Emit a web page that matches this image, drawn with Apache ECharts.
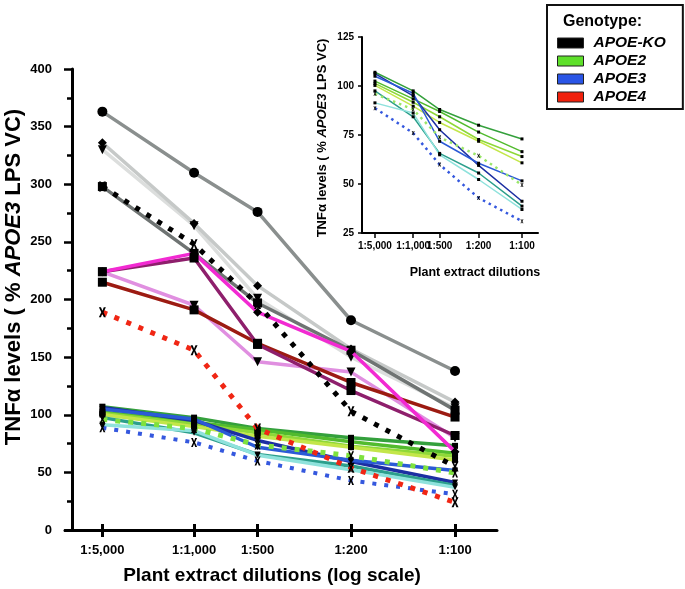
<!DOCTYPE html>
<html><head><meta charset="utf-8">
<script src="https://cdn.jsdelivr.net/npm/echarts@6/dist/echarts.min.js"></script>
<style>html,body{margin:0;padding:0;background:#fff}#c{width:685px;height:589px}</style>
</head><body><div id="c"></div>
<script>
// ---- data ----
const dilutions = ['1:5,000', '1:1,000', '1:500', '1:200', '1:100'];
const dilutionPos = [0, 26, 44, 70.5, 100];   // axis position of each dilution
const mainYTicks = [0, 50, 100, 150, 200, 250, 300, 350, 400];
const insetYTicks = [25, 50, 75, 100, 125];

// APOE-KO
const koDarkGray  = [363, 310, 276, 182, 138];
const koLightGray = [336, 266, 212, 157, 111];
const koPaleGray  = [330, 264, 201, 150, 106];
const koMidGray   = [298, 240, 197, 156, 104];
const koDotted    = [298, 248, 196, 103, 55];
// APOE4
const e4Magenta = [224, 240, 189, 155, 68];
const e4Purple  = [224, 236, 161, 121, 82];
const e4DarkRed = [215, 191, 162, 128, 98];
const e4Orchid  = [224, 195, 146, 137, 80];
const e4Dotted  = [189, 156, 88, 54, 24];
// APOE2
const e2DarkGreen = [107, 97.5, 88, 80, 73];
const e2Green     = [102.5, 93.4, 87, 76.5, 66.5];
const e2Lime      = [101.3, 91.7, 84.3, 72.7, 64];
const e2Yellow    = [100.3, 89.7, 81.4, 71.8, 60.8];
const e2Dotted    = [96, 88, 73.8, 64.4, 49.5];
// APOE3
const e3DarkBlue = [106.3, 95, 77.7, 59.5, 41.2];
const e3Blue     = [105, 96.3, 71.8, 60.6, 51.6];
const e3Teal     = [97.5, 84.3, 65.6, 55.6, 38.7];
const e3Cyan     = [91.4, 86.2, 64.9, 52.3, 37];
const e3Dotted   = [88.7, 76, 59.9, 42.9, 31];

const legendNames = ['APOE-KO', 'APOE2', 'APOE3', 'APOE4'];
const legendColors = ['#000000', '#5ee02a', '#2a55e6', '#f0200c'];

// ---- styling ----
const FONT = '"Liberation Sans", Arial, Helvetica, sans-serif';
const XSYM = 'path://M0 0H3L5 3.6L7 0H10L6.6 5L10 10H7L5 6.4L3 10H0L3.4 5Z';

function line(vals, inset, color, width, opts) {
  opts = opts || {};
  return {
    type: 'line', xAxisIndex: inset ? 2 : 0, yAxisIndex: inset ? 1 : 0,
    data: vals.map((v, i) => [dilutionPos[i], v]),
    lineStyle: { color: color, width: width, type: opts.dash || 'solid', cap: 'butt' },
    symbol: opts.symbol || 'rect',
    symbolSize: opts.size || 5,
    symbolRotate: opts.rotate || 0,
    itemStyle: { color: '#000' },
    silent: true, animation: false, z: opts.z || 2
  };
}

const series = [];
// main: APOE2 / APOE3
[[e2DarkGreen, '#34a03c'], [e2Green, '#52bb2e'], [e2Lime, '#8fd838'], [e2Yellow, '#c3e64a']].forEach(d =>
  series.push(line(d[0], false, d[1], 3.5, { symbol: 'rect', size: 6 })));
[[e3DarkBlue, '#1c2fa2'], [e3Blue, '#2b5ad6'], [e3Teal, '#2c9f8c'], [e3Cyan, '#8fe2dc']].forEach(d =>
  series.push(line(d[0], false, d[1], 3.5, { symbol: 'triangle', rotate: 180, size: 6 })));
series.push(line(e2Dotted, false, '#7ee23e', 5, { dash: [5, 8], symbol: XSYM, size: [6, 9] }));
series.push(line(e3Dotted, false, '#3558de', 4, { dash: [4, 8], symbol: XSYM, size: [6, 9] }));
// main: APOE-KO
series.push(line(koPaleGray, false, '#dcdedd', 3.5, { symbol: 'triangle', rotate: 180, size: 9 }));
series.push(line(koLightGray, false, '#c6c9c8', 3.5, { symbol: 'diamond', size: 9 }));
series.push(line(koMidGray, false, '#6f7473', 3.5, { symbol: 'rect', size: 9 }));
series.push(line(koDarkGray, false, '#8a8f8e', 3.5, { symbol: 'circle', size: 10 }));
// main: APOE4
series.push(line(e4Orchid, false, '#e08fe0', 3.5, { symbol: 'triangle', rotate: 180, size: 9, z: 3 }));
series.push(line(e4DarkRed, false, '#9c1b12', 3.5, { symbol: 'rect', size: 9, z: 3 }));
series.push(line(e4Purple, false, '#8e1f6c', 3.5, { symbol: 'rect', size: 9, z: 3 }));
series.push(line(e4Magenta, false, '#f22ad2', 3.5, { symbol: 'diamond', size: 9, z: 3 }));
series.push(line(e4Dotted, false, '#f02614', 5, { dash: [5, 8], symbol: XSYM, size: [7, 10], z: 4 }));
series.push(line(koDotted, false, '#000000', 5, { dash: [5, 8], symbol: XSYM, size: [7, 10], z: 4 }));
// inset
[[e2DarkGreen, '#34a03c'], [e2Green, '#52bb2e'], [e2Lime, '#8fd838'], [e2Yellow, '#c3e64a'],
 [e3DarkBlue, '#1c2fa2'], [e3Blue, '#2b5ad6'], [e3Teal, '#2c9f8c'], [e3Cyan, '#8fe2dc']].forEach(d =>
  series.push(line(d[0], true, d[1], 1.5, { symbol: 'rect', size: 3 })));
series.push(line(e2Dotted, true, '#9ae66a', 2.5, { dash: [2.5, 4], symbol: XSYM, size: [3, 4] }));
series.push(line(e3Dotted, true, '#3558de', 2.5, { dash: [2.5, 4], symbol: XSYM, size: [3, 4] }));
// legend-only series
legendNames.forEach((n, i) => series.push({ type: 'line', name: n, data: [], xAxisIndex: 0, yAxisIndex: 0, itemStyle: { color: legendColors[i] } }));

const labelFmt = v => { const i = dilutionPos.indexOf(v); return i >= 0 ? dilutions[i] : ''; };
const bold = (size) => ({ fontFamily: FONT, fontWeight: 'bold', fontSize: size, color: '#000' });

const option = {
  backgroundColor: '#fff',
  animation: false,
  grid: [
    { left: 65, right: 188, top: 69, bottom: 59 },
    { left: 362, right: 147, top: 37, bottom: 356 }
  ],
  xAxis: [
    { gridIndex: 0, type: 'value', position: 'bottom', min: -10.6, max: 111.9,
      axisLine: { show: true, onZero: false, lineStyle: { color: '#000', width: 3 } },
      axisTick: { show: true, customValues: dilutionPos, length: 7, lineStyle: { color: '#000', width: 3 } },
      axisLabel: { show: true, customValues: dilutionPos, formatter: labelFmt, margin: 14, ...bold(13) },
      splitLine: { show: false } },
    { gridIndex: 0, type: 'value', position: 'bottom', min: -10.6, max: 111.9,
      axisLine: { show: false, onZero: false },
      axisTick: { show: true, inside: true, customValues: dilutionPos, length: 6, lineStyle: { color: '#000', width: 3 } },
      axisLabel: { show: false }, splitLine: { show: false } },
    { gridIndex: 1, type: 'value', position: 'bottom', min: -8.8, max: 110.9,
      axisLine: { show: true, onZero: false, lineStyle: { color: '#000', width: 2 } },
      axisTick: { show: true, customValues: dilutionPos, length: 5, lineStyle: { color: '#000', width: 1.5 } },
      axisLabel: { show: true, customValues: dilutionPos, formatter: labelFmt, margin: 8, ...bold(10) },
      splitLine: { show: false } }
  ],
  yAxis: [
    { gridIndex: 0, type: 'value', position: 'left', min: 0, max: 400, interval: 50, offset: -7,
      axisLine: { show: true, onZero: false, lineStyle: { color: '#000', width: 3 } },
      axisTick: { show: true, length: 8, lineStyle: { color: '#000', width: 2.5 } },
      minorTick: { show: true, splitNumber: 2, length: 5, lineStyle: { color: '#000', width: 2.5 } },
      axisLabel: { margin: 20, ...bold(13) },
      splitLine: { show: false }, minorSplitLine: { show: false } },
    { gridIndex: 1, type: 'value', position: 'left', min: 25, max: 125, interval: 25,
      axisLine: { show: true, onZero: false, lineStyle: { color: '#000', width: 2 } },
      axisTick: { show: true, length: 4, lineStyle: { color: '#000', width: 1.5 } },
      axisLabel: { margin: 8, ...bold(10) },
      splitLine: { show: false } }
  ],
  legend: {
    orient: 'vertical', left: 547, top: 5,
    data: legendNames.map((n, i) => ({ name: n, icon: 'rect', itemStyle: { color: legendColors[i], borderColor: '#222', borderWidth: 1 } })),
    itemWidth: 26, itemHeight: 10, itemGap: 2,
    padding: [30, 17, 4, 10],
    borderColor: '#111', borderWidth: 2, selectedMode: false,
    textStyle: { fontFamily: FONT, fontWeight: 'bold', fontStyle: 'italic', fontSize: 15.5, color: '#000', padding: [0, 0, 0, 5] }
  },
  graphic: [
    { type: 'text', x: 14, y: 277, rotation: Math.PI / 2,
      style: { text: '{a|TNFα levels ( % }{b|APOE3}{a| LPS VC)}', align: 'center', verticalAlign: 'middle',
        rich: { a: { fontFamily: FONT, fontWeight: 'bold', fontSize: 22, fill: '#000' },
                b: { fontFamily: FONT, fontWeight: 'bold', fontStyle: 'italic', fontSize: 22, fill: '#000' } } } },
    { type: 'text', x: 272, y: 576,
      style: { text: 'Plant extract dilutions (log scale)', align: 'center', verticalAlign: 'middle',
        fontFamily: FONT, fontWeight: 'bold', fontSize: 19, fill: '#000' } },
    { type: 'text', x: 322, y: 138, rotation: Math.PI / 2,
      style: { text: '{a|TNFα levels ( % }{b|APOE3}{a| LPS VC)}', align: 'center', verticalAlign: 'middle',
        rich: { a: { fontFamily: FONT, fontWeight: 'bold', fontSize: 13, fill: '#000' },
                b: { fontFamily: FONT, fontWeight: 'bold', fontStyle: 'italic', fontSize: 13, fill: '#000' } } } },
    { type: 'text', x: 475, y: 273,
      style: { text: 'Plant extract dilutions', align: 'center', verticalAlign: 'middle',
        fontFamily: FONT, fontWeight: 'bold', fontSize: 12.5, fill: '#000' } },
    { type: 'text', x: 563, y: 22,
      style: { text: 'Genotype:', align: 'left', verticalAlign: 'middle',
        fontFamily: FONT, fontWeight: 'bold', fontSize: 16, fill: '#000' } }
  ],
  series: series
};

const chart = echarts.init(document.getElementById('c'), null, { renderer: 'canvas' });
chart.setOption(option);
</script></body></html>
